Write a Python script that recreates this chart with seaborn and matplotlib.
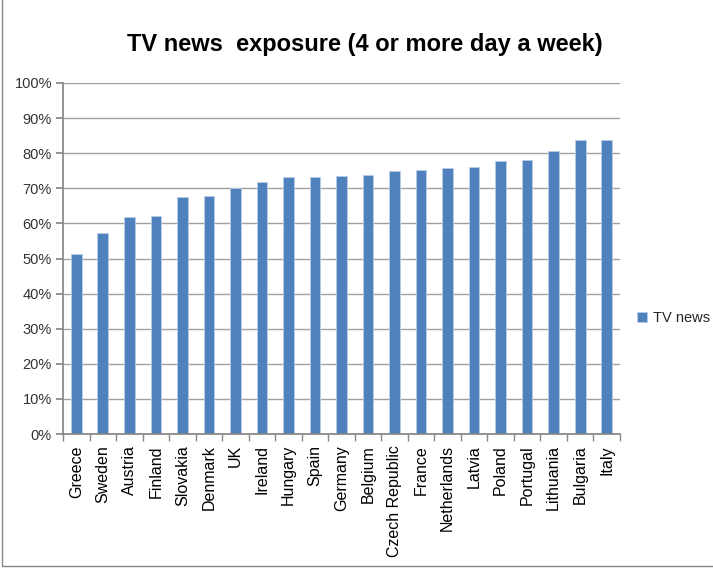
import matplotlib
matplotlib.use("Agg")
import matplotlib.pyplot as plt
import seaborn as sns
import pandas as pd
from matplotlib.ticker import PercentFormatter, MultipleLocator
from matplotlib.patches import Rectangle

countries = ["Greece", "Sweden", "Austria", "Finland", "Slovakia", "Denmark", "UK",
             "Ireland", "Hungary", "Spain", "Germany", "Belgium", "Czech Republic",
             "France", "Netherlands", "Latvia", "Poland", "Portugal", "Lithuania",
             "Bulgaria", "Italy"]
tv_news = [51.3, 57.2, 61.9, 62.2, 67.5, 67.7, 70.0, 71.7, 73.1, 73.3, 73.6, 73.9,
           75.0, 75.3, 75.8, 76.1, 77.8, 78.1, 80.7, 83.8, 83.8]
series_name = "TV news"
title = "TV news  exposure (4 or more day a week)"

df = pd.DataFrame({"country": countries, "value": tv_news})

sns.set_theme(style="white")
plt.rcParams['font.family'] = ['Liberation Sans', 'DejaVu Sans']

fig = plt.figure(figsize=(7.13, 5.68), dpi=100)
ax = fig.add_axes([63/713, 1 - 434/568, (620-63)/713, (434-83)/568])

sns.barplot(data=df, x="country", y="value", color="#4F81BD", width=0.4,
            saturation=1, ax=ax, label=series_name)
for p in ax.patches:
    p.set_edgecolor("#B9CDE5")
    p.set_linewidth(0.6)

ax.set_ylim(0, 100)
ax.yaxis.set_major_locator(MultipleLocator(10))
ax.yaxis.set_major_formatter(PercentFormatter(decimals=0))
ax.grid(axis="y", color="#A0A0A0", linewidth=1)
ax.set_axisbelow(True)
ax.set_xlim(-0.5, len(countries) - 0.5)
ax.set_xlabel("")
ax.set_ylabel("")
for s in ["top", "right"]:
    ax.spines[s].set_visible(False)
ax.spines["left"].set_color("#868686")
ax.spines["bottom"].set_color("#868686")

ax.set_xticks([i for i in range(len(countries))])
ax.set_xticklabels(countries, rotation=90, fontsize=11.5, color="black")
ax.set_xticks([i - 0.5 for i in range(len(countries) + 1)], minor=True)
ax.tick_params(axis="x", which="major", length=0, pad=8)
ax.tick_params(axis="x", which="minor", length=5, color="#868686", bottom=True)
ax.tick_params(axis="y", which="major", length=5, color="#868686", left=True,
               labelsize=10.5, labelcolor="#333333", pad=3)

leg = ax.legend(loc="center left", bbox_to_anchor=(637/713, 1 - 318/568),
                bbox_transform=fig.transFigure, frameon=False, fontsize=10.5,
                handlelength=0.7, handleheight=0.7, handletextpad=0.4,
                borderpad=0, borderaxespad=0)

fig.text(365/713, 1 - 45/568, title, ha="center", va="center",
         fontsize=17, fontweight="bold", color="black")

# outer chart border (left and bottom visible in reference)
fig.add_artist(Rectangle((2/713, 2/568), 1.2, 1.2, transform=fig.transFigure,
                         fill=False, edgecolor="#868686", linewidth=1))

fig.savefig("out.png", dpi=100)
